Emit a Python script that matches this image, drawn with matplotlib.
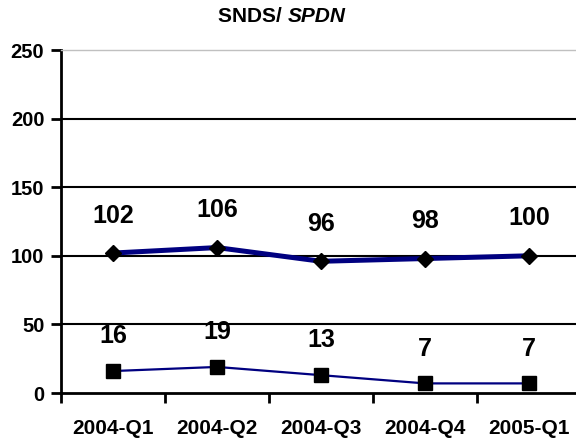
import matplotlib.pyplot as plt
import matplotlib

matplotlib.rcParams['font.family'] = ['Liberation Sans', 'DejaVu Sans']
matplotlib.rcParams['font.weight'] = 'bold'

# data
quarters = ['2004-Q1', '2004-Q2', '2004-Q3', '2004-Q4', '2005-Q1']
snds = [102, 106, 96, 98, 100]
spdn = [16, 19, 13, 7, 7]
yticks = [0, 50, 100, 150, 200, 250]

fig = plt.figure(figsize=(5.76, 4.40), dpi=100)
ax = fig.add_axes([61 / 576, 1 - 393 / 440, 515 / 576, (393 - 50) / 440])

x = list(range(len(quarters)))
navy = '#000080'

ax.plot(x, snds, color=navy, lw=3.6, marker='D', ms=8.5, mfc='black', mec='black', zorder=3)
ax.plot(x, spdn, color=navy, lw=1.6, marker='s', ms=9.5, mfc='black', mec='black', zorder=3)

for xi, v in zip(x, snds):
    ax.annotate(str(v), (xi, v), xytext=(0, 27), textcoords='offset points',
                ha='center', va='center', fontsize=18, fontweight='bold')
for xi, v in zip(x, spdn):
    ax.annotate(str(v), (xi, v), xytext=(0, 25), textcoords='offset points',
                ha='center', va='center', fontsize=18, fontweight='bold')

ax.set_ylim(0, 250)
ax.set_xlim(-0.5, 4.5 - 5 / 104)
ax.set_yticks(yticks)
ax.set_yticklabels([str(t) for t in yticks], fontsize=14.5, fontweight='bold')
ax.set_xticks(x)
ax.set_xticklabels(quarters, fontsize=15, fontweight='bold')
ax.tick_params(axis='x', length=0, pad=19)
ax.set_xticks([i - 0.5 for i in range(len(quarters))], minor=True)
ax.tick_params(axis='x', which='minor', length=7, width=2, direction='out')
ax.tick_params(axis='y', length=7, width=2, direction='out', pad=5)

for t in yticks[1:-1]:
    ax.axhline(t, color='black', lw=1.5, zorder=1)

ax.spines['left'].set_linewidth(2)
ax.spines['bottom'].set_linewidth(2)
ax.spines['right'].set_visible(False)
ax.spines['top'].set_color('#c0c0c0')
ax.spines['top'].set_linewidth(1)

fig.text(288 / 576, 1 - 17 / 440, 'SNDS/ ', ha='right', va='center', fontsize=15, fontweight='bold')
fig.text(288 / 576, 1 - 17 / 440, 'SPDN', ha='left', va='center', fontsize=15,
         fontweight='bold', style='italic')

fig.savefig('out.png', dpi=100)
